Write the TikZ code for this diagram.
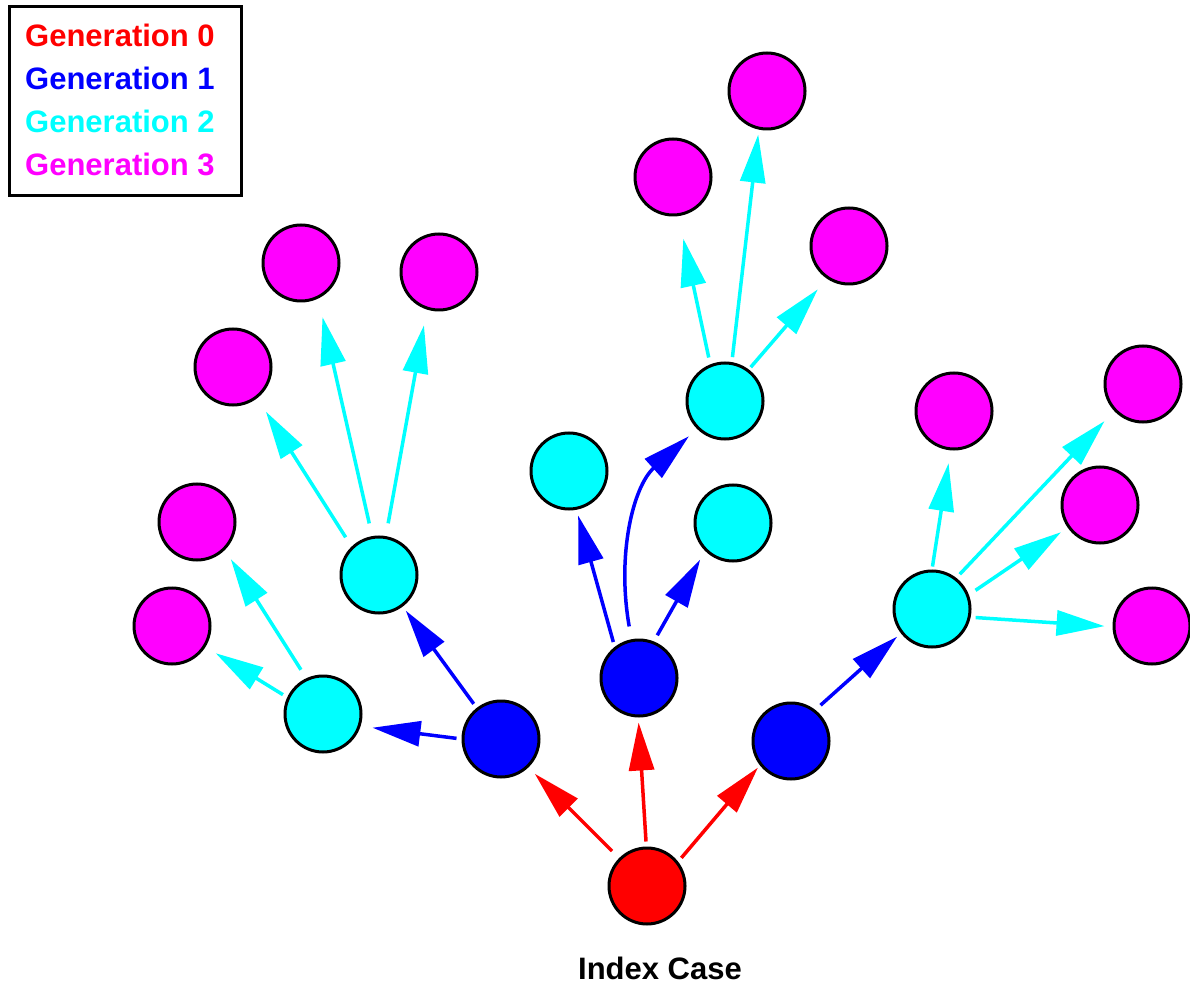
\documentclass[tikz,border=0pt]{standalone}
\usepackage{fontspec}
\setsansfont{Liberation Sans}
\definecolor{gen0col}{RGB}{255,0,0}
\definecolor{gen1col}{RGB}{0,0,255}
\definecolor{gen2col}{RGB}{0,255,255}
\definecolor{gen3col}{RGB}{255,0,255}
\usetikzlibrary{arrows.meta}
\tikzset{every picture/.style={/utils/exec={\sffamily\bfseries}},
  every node/.style={inner sep=0pt},
  case/.style={                  % one infected person
    circle, draw, line width=3pt,
    minimum size=76pt},
  gen0/.style={case, fill=gen0col},
  gen1/.style={case, fill=gen1col},
  gen2/.style={case, fill=gen2col},
  gen3/.style={case, fill=gen3col},
  every edge/.style={            % one transmission
    draw, -{Triangle[length=48pt,width=25pt]},
    line width=3.5pt,
    shorten <=5pt, shorten >=10pt}}

\begin{document}
\begin{tikzpicture}[x=1pt, y=1pt, font=\fontsize{31}{36}\selectfont]
  \useasboundingbox (0,0) rectangle (1190,989);

  % legend
  \node [draw, line width=3pt, anchor=north west,
         minimum width=232pt, minimum height=189pt] (legend) at (8.3,983.7) {};
  \node [anchor=base west, text=gen0col] (l0) at (25,942) {Generation 0};
  \node [anchor=base west, text=gen1col] (l1) at (25,899) {Generation 1};
  \node [anchor=base west, text=gen2col] (l2) at (25,856) {Generation 2};
  \node [anchor=base west, text=gen3col] (l3) at (25,813) {Generation 3};

  % index case and first generation
  \node [gen0] (r0) at (647,103) {};
  \node [anchor=base] (idx) at (660,10) {Index Case};

  \node [gen1] (b1) at (501,250) {};
  \node [gen1] (b2) at (639,311) {};
  \node [gen1] (b3) at (791,248) {};

  % second generation
  \node [gen2] (c1) at (323,275) {};
  \node [gen2] (c2) at (379,414) {};
  \node [gen2] (c3) at (569,518) {};
  \node [gen2] (c4) at (725,588) {};
  \node [gen2] (c5) at (733,466) {};
  \node [gen2] (c6) at (932,380) {};

  % third generation
  \node [gen3] (m1)  at (172,363) {};
  \node [gen3] (m2)  at (197,467) {};
  \node [gen3] (m3)  at (233,622) {};
  \node [gen3] (m4)  at (301,726) {};
  \node [gen3] (m5)  at (439,717) {};
  \node [gen3] (m6)  at (673,812) {};
  \node [gen3] (m7)  at (767,898) {};
  \node [gen3] (m8)  at (849,743) {};
  \node [gen3] (m9)  at (954,578) {};
  \node [gen3] (m10) at (1143,605) {};
  \node [gen3] (m11) at (1100,484) {};
  \node [gen3] (m12) at (1152,363) {};

  % index case infects
  \draw (r0.135) edge [gen0col, shorten <=10pt, shorten >=9pt] (b1.-46);
  \draw (r0.91)  edge [gen0col, shorten >=5pt] (b2.-91);
  \draw (r0.38)  edge [gen0col, shorten >=3pt] (b3.-142);

  % first generation infects
  \draw (b1.180) edge [gen1col, shorten >=12pt] (c1.-18);
  \draw (b1.128) edge [gen1col, shorten >=5pt] (c2.-53);
  \draw (b2.128) edge [gen1col, shorten >=6pt] (c3.-79);
  \draw (b2.101) edge [gen1col, out=100, in=-138, shorten <=13pt, shorten >=11pt] (c4.-135);
  \draw (b2.68)  edge [gen1col, shorten <=7pt] (c5.-135);
  \draw (b3.52)  edge [gen1col, shorten <=7pt, shorten >=5pt] (c6.-142);

  % second generation infects
  \draw (c1.155) edge [gen2col, shorten >=12pt] (m1.-32);
  \draw (c1.115) edge [gen2col, shorten <=10pt, shorten >=11pt] (m2.-45);
  \draw (c2.134) edge [gen2col, shorten <=11pt, shorten >=16pt] (m3.-52);
  \draw (c2.100) edge [gen2col, shorten <=13pt, shorten >=19pt] (m4.-64);
  \draw (c2.80)  edge [gen2col, shorten <=13pt, shorten >=16pt] (m5.-108);
  \draw (c4.112) edge [gen2col, shorten <=7pt, shorten >=23pt] (m6.-82);
  \draw (c4.80)  edge [gen2col, shorten >=5pt] (m7.-102);
  \draw (c4.53)  edge [gen2col, shorten <=3pt, shorten >=14pt] (m8.-124);
  \draw (c6.90)  edge [gen2col, shorten <=3pt, shorten >=13pt] (m9.-95);
  \draw (c6.52)  edge [gen2col, shorten >=14pt] (m10.-137);
  \draw (c6.21)  edge [gen2col, shorten <=8pt, shorten >=8pt] (m11.-145);
  \draw (c6.-12) edge [gen2col, shorten >=8pt] (m12.181);
\end{tikzpicture}
\end{document}
